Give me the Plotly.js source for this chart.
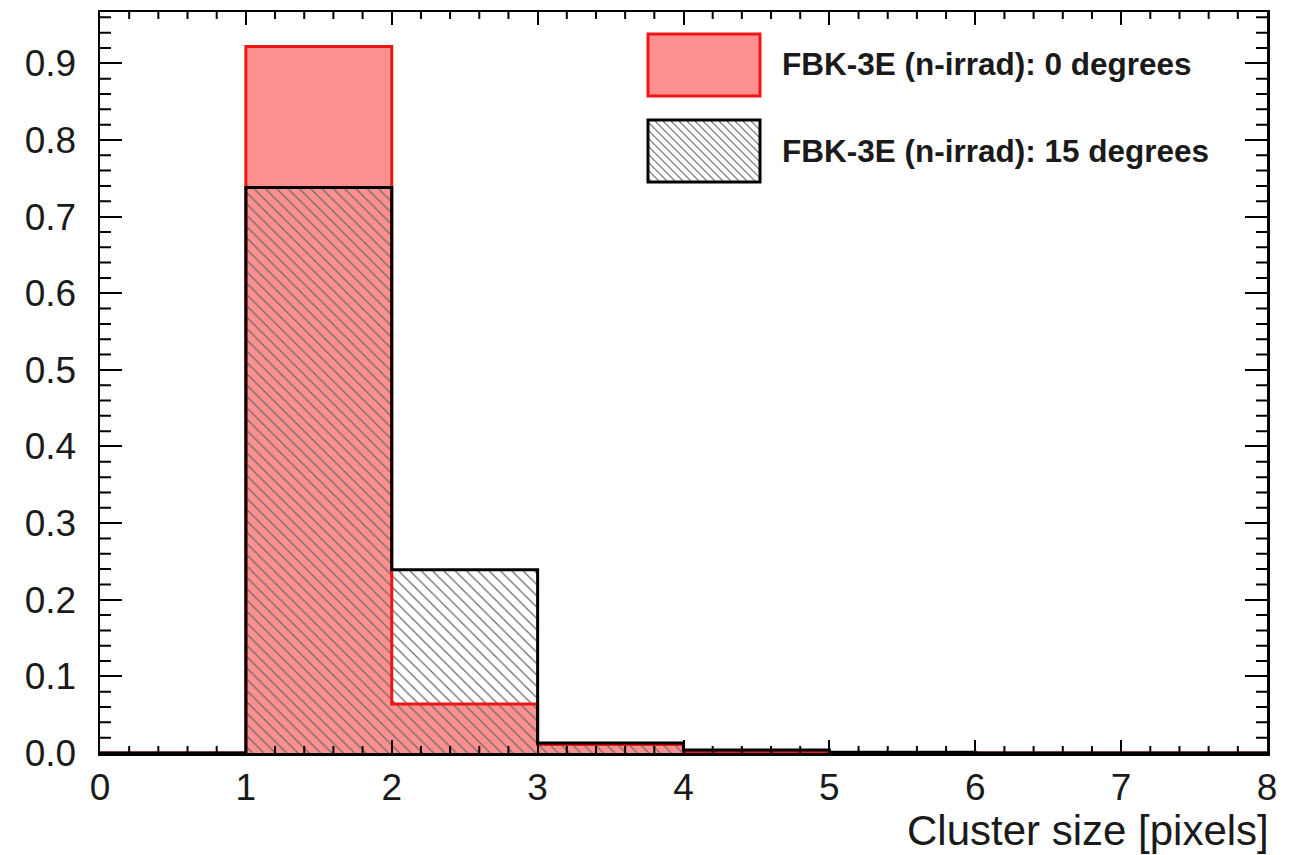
<!DOCTYPE html>
<html>
<head>
<meta charset="utf-8">
<script src="https://cdn.plot.ly/plotly-3.0.1.min.js"></script>
<style>html,body{margin:0;padding:0;background:#fff;}#chart{width:1293px;height:855px;}</style>
</head>
<body>
<div id="chart"></div>
<script>
// ---- data ----
var binLowEdges = [0, 1, 2, 3, 4, 5, 6, 7];
var binWidth = 1;
var deg0Values  = [0, 0.922, 0.064, 0.011, 0.002, 0, 0, 0];
var deg15Values = [0, 0.738, 0.239, 0.013, 0.004, 0.001, 0, 0];
var seriesNames = ['FBK-3E (n-irrad): 0 degrees', 'FBK-3E (n-irrad): 15 degrees'];
var xTitle = 'Cluster size [pixels]';
var xMinorStep = 0.2, yMinorStep = 0.02;

// ---- derived ----
var centers = binLowEdges.map(function (e) { return e + binWidth / 2; });
var edges = binLowEdges.concat([binLowEdges[binLowEdges.length - 1] + binWidth]);
function stepY(v) { return v.concat([v[v.length - 1]]); }

var RED_FILL = '#ff9090';
var RED_LINE = '#ee1515';
var HATCH = '#6a6a6a';
var XR = [0, 8], YR = [0, 0.967];

var traces = [
  { type: 'bar', x: centers, y: deg0Values, width: binWidth, name: seriesNames[0],
    marker: { color: RED_FILL, line: { width: 0 } }, showlegend: false, hoverinfo: 'x+y' },
  { type: 'bar', x: centers, y: deg15Values, width: binWidth, name: seriesNames[1],
    marker: { color: 'rgba(0,0,0,0)', line: { width: 0 },
      pattern: { shape: '\\', fgcolor: HATCH, bgcolor: 'rgba(0,0,0,0)', size: 8, solidity: 0.16 } },
    showlegend: false, hoverinfo: 'x+y' },
  { type: 'scatter', mode: 'lines', x: edges, y: stepY(deg0Values), line: { shape: 'hv', color: RED_LINE, width: 3 },
    showlegend: false, hoverinfo: 'skip' },
  { type: 'scatter', mode: 'lines', x: edges, y: stepY(deg15Values), line: { shape: 'hv', color: '#000', width: 3 },
    showlegend: false, hoverinfo: 'skip' }
];

// ---- geometry ----
var ML = 100, MR = 26, MT = 12, MB = 102, W = 1293, H = 855;
var PW = W - ML - MR, PH = H - MT - MB;
function px2x(px) { return (px - ML) / PW; }
function py2y(py) { return (H - MB - py) / PH; }

// ---- minor ticks (inside, mirrored) ----
var xMinorLen = 7 / PH, yMinorLen = 11 / PW;
var xMinorPath = '';
for (var i = 0; i <= Math.round(XR[1] / xMinorStep); i++) {
  if (i % 5 === 0) continue;
  var xv = (i * xMinorStep).toFixed(3);
  xMinorPath += 'M' + xv + ',0L' + xv + ',' + xMinorLen.toFixed(5) +
                'M' + xv + ',1L' + xv + ',' + (1 - xMinorLen).toFixed(5);
}
var yMinorPath = '';
for (var j = 0; j * yMinorStep <= YR[1]; j++) {
  if (j % 5 === 0) continue;
  var yv = (j * yMinorStep).toFixed(3);
  yMinorPath += 'M0,' + yv + 'L' + yMinorLen.toFixed(5) + ',' + yv +
                'M1,' + yv + 'L' + (1 - yMinorLen).toFixed(5) + ',' + yv;
}

// ---- legend swatches (paper coords) ----
var box1 = { x0: 648, x1: 760, y0: 34, y1: 96 };
var box2 = { x0: 648, x1: 760, y0: 120, y1: 182 };

var hatch = '';
var bw = box2.x1 - box2.x0, bh = box2.y1 - box2.y0, sp = 8;
for (var c = -bh + sp / 2; c < bw; c += sp) {
  var sx = c >= 0 ? c : 0, sy = c >= 0 ? 0 : -c;
  var ex = Math.min(bw, bh + c), ey = ex - c;
  hatch += 'M' + px2x(box2.x0 + sx).toFixed(5) + ',' + py2y(box2.y0 + sy).toFixed(5) +
           'L' + px2x(box2.x0 + ex).toFixed(5) + ',' + py2y(box2.y0 + ey).toFixed(5);
}

var shapes = [
  { type: 'path', xref: 'x', yref: 'paper', path: xMinorPath, line: { color: '#000', width: 2 } },
  { type: 'path', xref: 'paper', yref: 'y', path: yMinorPath, line: { color: '#000', width: 2 } },
  { type: 'rect', xref: 'paper', yref: 'paper', x0: px2x(box1.x0), x1: px2x(box1.x1), y0: py2y(box1.y1), y1: py2y(box1.y0),
    fillcolor: RED_FILL, line: { color: RED_LINE, width: 3 } },
  { type: 'rect', xref: 'paper', yref: 'paper', x0: px2x(box2.x0), x1: px2x(box2.x1), y0: py2y(box2.y1), y1: py2y(box2.y0),
    fillcolor: '#ffffff', line: { width: 0 } },
  { type: 'path', xref: 'paper', yref: 'paper', path: hatch, line: { color: '#808080', width: 1.2 } },
  { type: 'rect', xref: 'paper', yref: 'paper', x0: px2x(box2.x0), x1: px2x(box2.x1), y0: py2y(box2.y1), y1: py2y(box2.y0),
    fillcolor: 'rgba(0,0,0,0)', line: { color: '#000', width: 3 } }
];

var FONT = 'Liberation Sans, Arial, Helvetica, sans-serif';
var annotations = [
  { xref: 'paper', yref: 'paper', x: px2x(780), y: py2y(64), xanchor: 'left', yanchor: 'middle', showarrow: false,
    text: '<b>' + seriesNames[0] + '</b>', font: { family: FONT, size: 31.5, color: '#1a1a1a' } },
  { xref: 'paper', yref: 'paper', x: px2x(780), y: py2y(151), xanchor: 'left', yanchor: 'middle', showarrow: false,
    text: '<b>' + seriesNames[1] + '</b>', font: { family: FONT, size: 31.5, color: '#1a1a1a' } },
  { xref: 'paper', yref: 'paper', x: px2x(1271), y: py2y(831), xanchor: 'right', yanchor: 'middle', showarrow: false,
    text: xTitle, font: { family: FONT, size: 42, color: '#1a1a1a' } }
];

var layout = {
  width: W, height: H,
  margin: { l: ML, r: MR, t: MT, b: MB, pad: 0 },
  paper_bgcolor: '#fff', plot_bgcolor: '#fff',
  barmode: 'overlay', bargap: 0,
  showlegend: false,
  font: { family: FONT, size: 37, color: '#1a1a1a' },
  xaxis: {
    range: XR, tickmode: 'linear', tick0: 0, dtick: 1,
    showgrid: false, zeroline: false, showline: true, linecolor: '#000', linewidth: 2.5, mirror: 'ticks',
    ticks: 'inside', ticklen: 13, tickwidth: 2, tickcolor: '#000', ticklabelstandoff: 0,
    tickfont: { family: FONT, size: 37, color: '#1a1a1a' }
  },
  yaxis: {
    range: YR, tickmode: 'linear', tick0: 0, dtick: 0.1, tickformat: '.1f',
    showgrid: false, zeroline: false, showline: true, linecolor: '#000', linewidth: 2.5, mirror: 'ticks',
    ticks: 'inside', ticklen: 22, tickwidth: 2, tickcolor: '#000', ticklabelstandoff: 14,
    tickfont: { family: FONT, size: 37, color: '#1a1a1a' }
  },
  shapes: shapes,
  annotations: annotations
};

Plotly.newPlot('chart', traces, layout, { staticPlot: true, displayModeBar: false });
</script>
</body>
</html>
